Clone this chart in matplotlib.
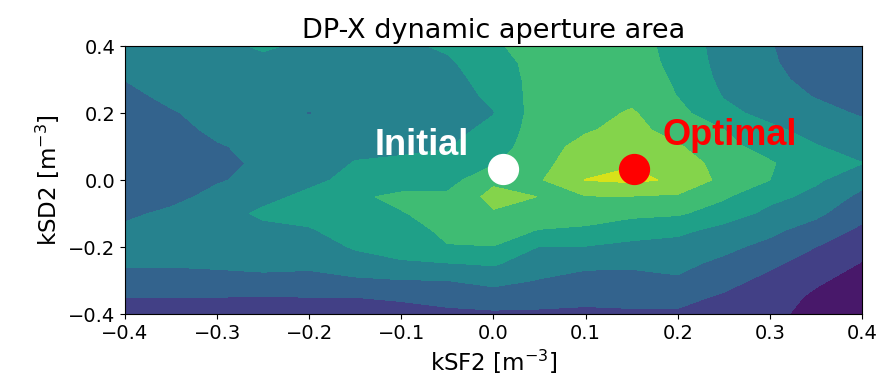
import numpy as np
import matplotlib
matplotlib.use('Agg')
import matplotlib.pyplot as plt

# scan grid [m^-3]
ksf2 = [-0.40, -0.35, -0.30, -0.25, -0.20, -0.15, -0.10, -0.05, 0.00,
        0.05, 0.10, 0.15, 0.20, 0.25, 0.30, 0.35, 0.40]
ksd2 = [0.40, 0.35, 0.30, 0.25, 0.20, 0.15, 0.10, 0.05, 0.00,
        -0.05, -0.10, -0.15, -0.20, -0.25, -0.30, -0.35, -0.40]

# dynamic aperture area, one row per kSD2 value (top row = kSD2 0.4)
da_area = [
    [3.35, 3.50, 3.60, 4.20, 3.70, 3.75, 3.80, 4.15, 4.90, 5.30, 5.40, 5.45, 4.60, 3.60, 3.05, 2.50, 2.30],
    [3.20, 3.40, 3.55, 3.60, 3.60, 3.70, 3.75, 3.85, 4.60, 5.35, 5.45, 5.50, 4.70, 3.65, 3.10, 2.60, 2.40],
    [3.02, 3.30, 3.50, 3.55, 3.50, 3.60, 3.70, 3.70, 4.35, 5.40, 5.50, 5.60, 4.85, 3.75, 3.20, 2.75, 2.55],
    [2.70, 3.25, 3.45, 3.50, 3.30, 3.50, 3.65, 3.65, 4.15, 5.45, 5.55, 5.75, 4.98, 3.95, 3.40, 2.95, 2.70],
    [2.50, 2.90, 3.40, 3.45, 2.95, 3.50, 3.60, 3.65, 3.97, 5.50, 5.65, 6.10, 5.30, 4.25, 3.70, 3.30, 2.90],
    [2.35, 2.60, 3.25, 3.40, 3.30, 3.60, 3.70, 3.75, 4.20, 5.55, 5.90, 6.30, 5.60, 5.00, 4.20, 3.65, 3.30],
    [2.30, 2.40, 2.90, 3.30, 3.40, 3.75, 3.88, 3.95, 4.50, 5.60, 6.30, 6.55, 6.10, 5.30, 4.60, 4.05, 3.65],
    [2.30, 2.35, 2.70, 3.20, 3.50, 4.05, 4.10, 4.30, 4.90, 5.70, 6.60, 6.93, 6.60, 5.55, 5.10, 4.35, 4.02],
    [2.35, 2.40, 2.90, 3.30, 3.75, 4.30, 4.50, 4.60, 5.80, 5.90, 7.02, 7.20, 6.85, 5.70, 5.00, 4.15, 3.35],
    [2.50, 2.70, 3.30, 3.70, 4.25, 4.85, 5.20, 5.20, 6.30, 5.98, 5.95, 5.95, 5.85, 5.10, 4.30, 3.70, 2.75],
    [2.80, 3.20, 3.50, 4.20, 4.40, 4.70, 4.95, 5.30, 5.90, 5.80, 5.40, 5.20, 5.10, 4.60, 3.70, 3.20, 2.30],
    [3.20, 3.40, 3.55, 3.70, 3.90, 4.50, 4.60, 5.20, 5.45, 4.95, 4.85, 4.50, 4.30, 3.60, 3.20, 2.60, 1.80],
    [3.40, 3.50, 3.50, 3.50, 3.50, 4.10, 4.30, 4.95, 4.97, 3.95, 3.95, 3.70, 3.50, 3.20, 2.75, 2.00, 1.30],
    [3.10, 3.10, 3.15, 3.25, 3.20, 3.55, 3.90, 3.95, 4.10, 3.45, 3.25, 3.15, 3.20, 2.80, 2.20, 1.50, 0.95],
    [2.60, 2.60, 2.70, 2.75, 2.70, 2.85, 2.95, 3.00, 3.30, 2.95, 2.60, 2.70, 2.90, 2.35, 1.70, 1.15, 0.60],
    [2.00, 2.00, 2.00, 1.95, 2.00, 2.00, 2.10, 2.30, 2.50, 2.35, 2.25, 2.30, 2.30, 1.85, 1.50, 0.80, 0.40],
    [1.60, 1.60, 1.60, 1.60, 1.65, 1.65, 1.70, 1.80, 1.85, 1.85, 1.80, 1.85, 1.85, 1.50, 1.30, 0.60, 0.25],
]
area_levels = [0, 1, 2, 3, 4, 5, 6, 7, 8]

# working points
initial_pt = (0.01, 0.033)
optimal_pt = (0.153, 0.033)

xticks = [-0.4, -0.3, -0.2, -0.1, 0.0, 0.1, 0.2, 0.3, 0.4]
yticks = [-0.4, -0.2, 0.0, 0.2, 0.4]

fig = plt.figure(figsize=(8.8, 3.89), dpi=100)
ax = fig.add_axes([0.142, 0.1928, 0.8375, 0.6889])

ax.contourf(ksf2, ksd2, np.array(da_area), levels=area_levels, cmap='viridis')

ax.plot(*initial_pt, 'o', color='white', markersize=21.5)
ax.plot(*optimal_pt, 'o', color='red', markersize=21.5)
ax.text(-0.129, 0.075, 'Initial', color='white', fontsize=26, fontweight='bold',
        family='Liberation Sans', ha='left', va='baseline')
ax.text(0.183, 0.104, 'Optimal', color='red', fontsize=26, fontweight='bold',
        family='Liberation Sans', ha='left', va='baseline')

ax.set_xlim(-0.4, 0.4)
ax.set_ylim(-0.4, 0.4)
ax.set_xticks(xticks)
ax.set_yticks(yticks)
ax.tick_params(labelsize=14)
ax.set_title('DP-X dynamic aperture area', fontsize=19.5)
ax.set_xlabel('kSF2 [m$^{-3}$]', fontsize=16.5)
ax.set_ylabel('kSD2 [m$^{-3}$]', fontsize=16.5)

fig.savefig('out.png', dpi=100)
